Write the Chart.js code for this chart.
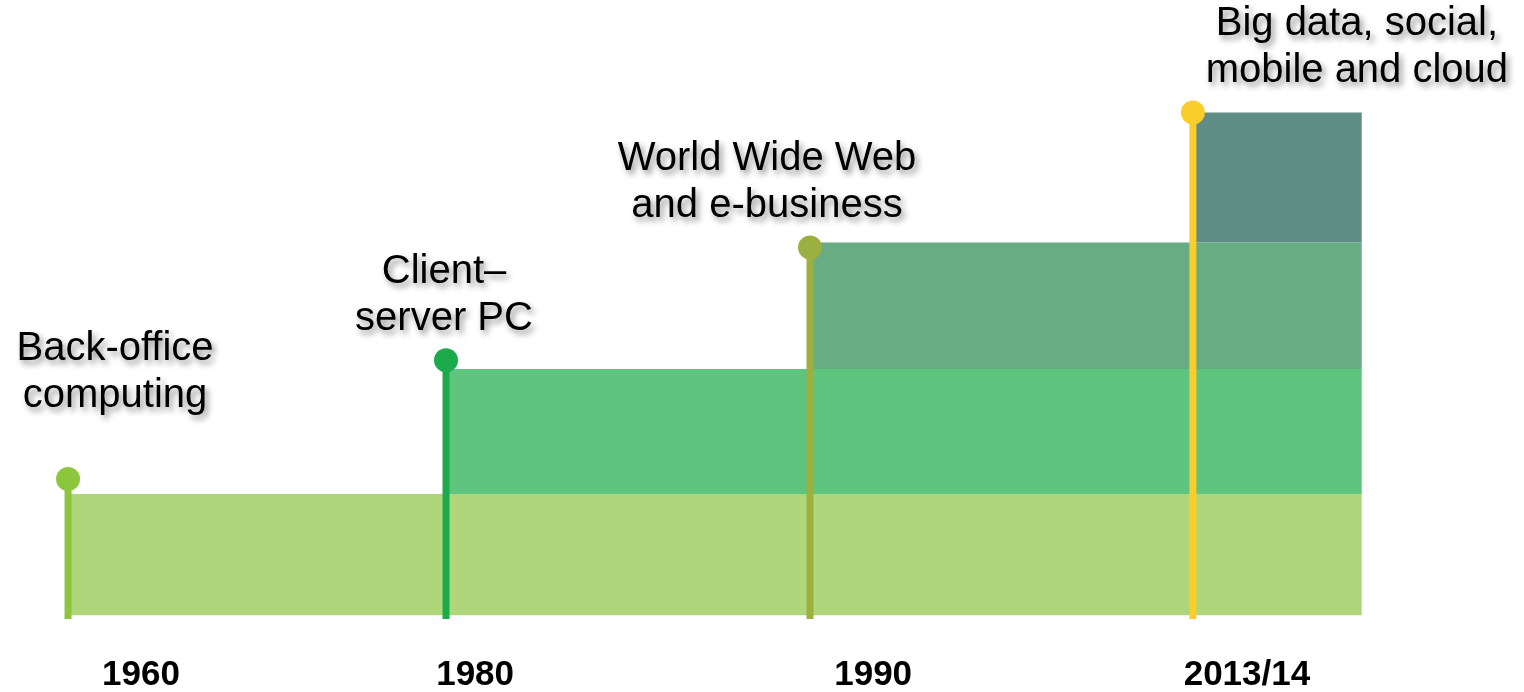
<!DOCTYPE html>
<html>
<head>
<meta charset="utf-8">
<script src="https://cdn.jsdelivr.net/npm/chart.js@4/dist/chart.umd.min.js"></script>
<style>
  html, body { margin: 0; padding: 0; background: #fff; }
  canvas { display: block; }
</style>
</head>
<body>
<canvas id="timeline" width="1524" height="692"></canvas>
<script>
// eras along the timeline (x in era steps, y in stacked layer units)
const eraLabels = [
    ["Back-office", "computing"],
    ["Client\u2013", "server PC"],
    ["World Wide Web", "and e-business"],
    ["Big data, social,", "mobile and cloud"]
];
const eraStart = [0, 1, 1.963, 2.976];
const timelineEnd = 3.423;
const layerHeight = [0.97, 1.0, 1.01, 1.04];
const pinTop = [1.09, 2.04, 2.94, 4.02];
const tickLabels = ["1960", "1980", "1990", "2013/14"];
const tickPos = [0.193, 1.077, 2.13, 3.119];

const layerColors = ["#afd67a", "#5ec47e", "#67ac83", "#5f8c85"];
const pinColors = ["#8cc63f", "#1bab4b", "#9bb040", "#fbcd2a"];
// label placement relative to the pin head: [dx, dy of last baseline]
const labelOffset = [[47, -72], [-2, -30], [-43, -31], [164, -31]];

const datasets = [];

// lollipop pins on top
eraStart.forEach((x, i) => {
    datasets.push({
        data: [{x: x, y: -0.03}, {x: x, y: pinTop[i]}],
        borderColor: pinColors[i],
        borderWidth: 7,
        borderCapStyle: "butt",
        pointRadius: [0, 12],
        pointBackgroundColor: pinColors[i],
        pointBorderWidth: 0,
        fill: false,
        order: 0
    });
});

// stacked layers, each sitting on the previous one
let base = 0;
layerHeight.forEach((h, i) => {
    const top = base + h;
    datasets.push({
        data: [{x: eraStart[i], y: top}, {x: timelineEnd, y: top}],
        borderWidth: 0,
        pointRadius: 0,
        backgroundColor: layerColors[i],
        fill: {value: base},
        order: 1
    });
    base = top;
});

const eraText = {
    id: "eraText",
    afterDatasetsDraw(chart) {
        const ctx = chart.ctx;
        const xs = chart.scales.x, ys = chart.scales.y;
        ctx.save();
        ctx.font = "40px 'Liberation Sans', Arial, sans-serif";
        ctx.textAlign = "center";
        ctx.textBaseline = "alphabetic";
        ctx.fillStyle = "#000";
        ctx.shadowColor = "rgba(0,0,0,0.45)";
        ctx.shadowBlur = 6;
        ctx.shadowOffsetX = 3;
        ctx.shadowOffsetY = 4;
        eraLabels.forEach((lines, i) => {
            const cx = xs.getPixelForValue(eraStart[i]) + labelOffset[i][0];
            const by = ys.getPixelForValue(pinTop[i]) + labelOffset[i][1];
            lines.forEach((t, j) => {
                ctx.fillText(t, cx, by - (lines.length - 1 - j) * 47);
            });
        });
        ctx.restore();
    }
};

new Chart(document.getElementById("timeline"), {
    type: "line",
    data: {datasets: datasets},
    options: {
        responsive: false,
        animation: false,
        layout: {padding: {top: 0, left: 0, right: 0, bottom: -39}, autoPadding: false},
        plugins: {legend: {display: false}, tooltip: {enabled: false}},
        scales: {
            x: {
                type: "linear",
                min: -0.18,
                max: 3.852,
                grid: {display: false, drawTicks: false},
                border: {display: false},
                afterBuildTicks: s => { s.ticks = tickPos.map(v => ({value: v})); },
                ticks: {
                    autoSkip: false,
                    maxRotation: 0,
                    padding: 35,
                    color: "#000",
                    font: {family: "'Liberation Sans', Arial, sans-serif", size: 35, weight: "bold"},
                    callback: (v, i) => tickLabels[i]
                }
            },
            y: {
                display: false,
                min: -0.03,
                max: 4.92
            }
        }
    },
    plugins: [eraText]
});
</script>
</body>
</html>
